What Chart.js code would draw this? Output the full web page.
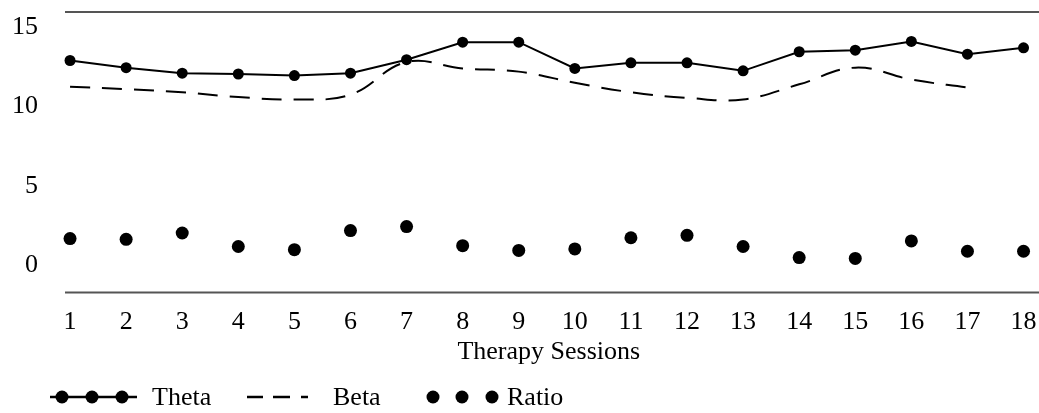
<!DOCTYPE html>
<html>
<head>
<meta charset="utf-8">
<script src="https://cdn.jsdelivr.net/npm/chart.js@4.4.1/dist/chart.umd.min.js"></script>
<style>
  html, body { margin: 0; padding: 0; background: #fff; }
  #wrap { position: relative; width: 1039px; height: 413px; }
  #legend { position: absolute; left: 0; top: 383px; width: 1039px; height: 28px;
            font-family: "Liberation Serif", "DejaVu Serif", serif; font-size: 26px; color: #000; }
  #legend span { position: absolute; top: 0; line-height: 28px; }
  #legend svg { position: absolute; top: 0; }
</style>
</head>
<body>
<div id="wrap">
  <canvas id="grafico" width="1039" height="413"></canvas>
  <div id="legend">
    <svg style="left:50px" width="88" height="28">
      <line x1="0" y1="14" x2="87" y2="14" stroke="#000" stroke-width="2.5"/>
      <circle cx="12" cy="14" r="6.5" fill="#000"/>
      <circle cx="42" cy="14" r="6.5" fill="#000"/>
      <circle cx="72" cy="14" r="6.5" fill="#000"/>
    </svg>
    <span style="left:152px">Theta</span>
    <svg style="left:247px" width="64" height="28">
      <line x1="0" y1="14" x2="16" y2="14" stroke="#000" stroke-width="2.5"/>
      <line x1="26" y1="14" x2="43" y2="14" stroke="#000" stroke-width="2.5"/>
      <line x1="54" y1="14" x2="61" y2="14" stroke="#000" stroke-width="2.5"/>
    </svg>
    <span style="left:333px">Beta</span>
    <svg style="left:424px" width="80" height="28">
      <circle cx="9" cy="14" r="6.5" fill="#000"/>
      <circle cx="38" cy="14" r="6.5" fill="#000"/>
      <circle cx="68" cy="14" r="6.5" fill="#000"/>
    </svg>
    <span style="left:507px">Ratio</span>
  </div>
</div>
<script>
// dados
const sessions = [1, 2, 3, 4, 5, 6, 7, 8, 9, 10, 11, 12, 13, 14, 15, 16, 17, 18];
const theta = [12.9, 12.45, 12.1, 12.05, 11.95, 12.1, 12.95, 14.05, 14.05, 12.4, 12.75, 12.75, 12.25, 13.45, 13.55, 14.1, 13.3, 13.7];
const beta = [11.25, 11.1, 10.9, 10.6, 10.45, 10.75, 12.8, 12.4, 12.2, 11.5, 10.9, 10.55, 10.45, 11.4, 12.45, 11.7, 11.2, null];
const ratio = [1.7, 1.65, 2.05, 1.2, 1.0, 2.2, 2.45, 1.25, 0.95, 1.05, 1.75, 1.9, 1.2, 0.5, 0.45, 1.55, 0.9, 0.9];
const yTicks = [0, 5, 10, 15];

const fontFamily = '"Liberation Serif", "DejaVu Serif", serif';
const toPoints = arr => sessions.map((s, i) => ({ x: s, y: arr[i] }));

// linhas de topo e base, até a borda direita da figura
const frameLines = {
  id: 'frameLines',
  afterDraw(chart) {
    const { ctx, chartArea } = chart;
    ctx.save();
    ctx.strokeStyle = '#555';
    ctx.lineWidth = 2;
    ctx.beginPath();
    ctx.moveTo(chartArea.left, chartArea.top);
    ctx.lineTo(chart.width, chartArea.top);
    ctx.moveTo(chartArea.left, chartArea.bottom);
    ctx.lineTo(chart.width, chartArea.bottom);
    ctx.stroke();
    ctx.restore();
  }
};

const ctx = document.getElementById('grafico').getContext('2d');
new Chart(ctx, {
  type: 'line',
  data: {
    datasets: [
      {
        label: 'Theta',
        data: toPoints(theta),
        borderColor: '#000',
        borderWidth: 2,
        pointRadius: 5.5,
        pointBackgroundColor: '#000',
        pointBorderWidth: 0,
        tension: 0,
        clip: false
      },
      {
        label: 'Beta',
        data: toPoints(beta),
        borderColor: '#000',
        borderWidth: 2,
        borderDash: [20, 12],
        pointRadius: 0,
        tension: 0.4,
        spanGaps: false,
        clip: false
      },
      {
        label: 'Ratio',
        data: toPoints(ratio),
        showLine: false,
        pointRadius: 6.5,
        pointBackgroundColor: '#000',
        pointBorderWidth: 0,
        clip: false
      }
    ]
  },
  options: {
    responsive: false,
    animation: false,
    layout: { padding: { top: 12, bottom: 45, left: 0, right: 0 } },
    plugins: {
      legend: { display: false },
      tooltip: { enabled: false }
    },
    scales: {
      x: {
        type: 'linear',
        min: 0.91,
        max: 18.16,
        afterBuildTicks: scale => { scale.ticks = sessions.map(v => ({ value: v })); },
        afterFit: scale => { scale.paddingLeft = 0; scale.paddingRight = 0; },
        grid: { display: false, drawTicks: false },
        border: { display: false },
        ticks: { padding: 14, color: '#000', autoSkip: false, maxRotation: 0, font: { family: fontFamily, size: 26 } },
        title: {
          display: true,
          text: 'Therapy Sessions',
          color: '#000',
          font: { family: fontFamily, size: 26 },
          padding: { top: -15, bottom: 0 }
        }
      },
      y: {
        min: -1.7,
        max: 15.95,
        afterBuildTicks: scale => { scale.ticks = yTicks.map(v => ({ value: v })); },
        afterFit: scale => { scale.width = 65; scale.paddingTop = 0; scale.paddingBottom = 0; },
        grid: { display: false, drawTicks: false },
        border: { display: false },
        ticks: { padding: 27, color: '#000', font: { family: fontFamily, size: 26 } }
      }
    }
  },
  plugins: [frameLines]
});
</script>
</body>
</html>
